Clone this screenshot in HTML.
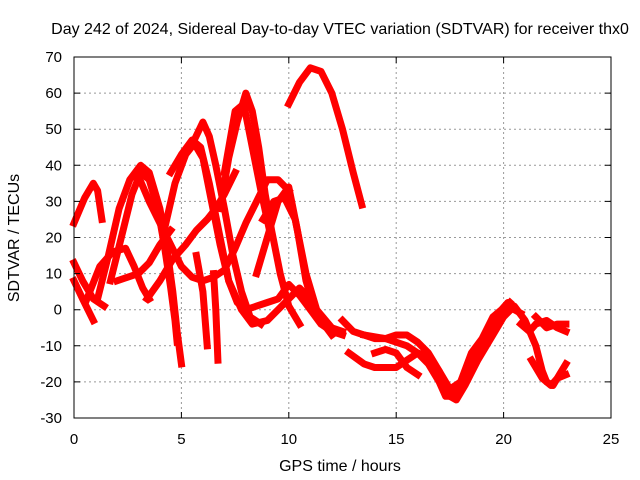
<!DOCTYPE html>
<html><head><meta charset="utf-8"><style>
body{margin:0;background:#fff;font-family:"Liberation Sans",sans-serif}
svg{display:block}
text{font-family:"Liberation Sans",sans-serif;font-size:16px;fill:#000}
text.tk{font-size:15px}
</style></head><body>
<svg id="chart" width="640" height="480" viewBox="0 0 640 480">
<text x="340" y="34" text-anchor="middle">Day 242 of 2024, Sidereal Day-to-day VTEC variation (SDTVAR) for receiver thx0</text>
<g id="grid"></g>
<g id="series"></g>
<rect x="74" y="57" width="537" height="361" fill="none" stroke="#000" stroke-width="1"/>
<g id="ticks"></g>
<text x="340" y="471" text-anchor="middle">GPS time / hours</text>
<text x="19" y="238" text-anchor="middle" transform="rotate(-90 19 238)">SDTVAR / TECUs</text>
</svg>
<script>
const xTicks=[0,5,10,15,20,25];
const yTicks=[-30,-20,-10,0,10,20,30,40,50,60,70];
const t1=[[0,24],[0.5,31],[0.9,35],[1.1,33],[1.3,25]];
const t2=[[0,13],[0.4,8],[0.9,3],[1.4,1]];
const t3=[[0,8],[0.4,3],[0.9,-3]];
const t4=[[0.6,3],[1.2,12],[1.8,16],[2.4,17],[2.8,12],[3.2,6],[3.5,3]];
const t5=[[1.7,8],[2.2,20],[2.7,32],[3.1,38],[3.5,36],[3.9,28],[4.2,18],[4.5,6],[4.7,-3],[4.8,-9]];
const t6=[[1.1,3],[1.6,15],[2.1,28],[2.6,36],[3.1,40],[3.5,38],[4,28],[4.3,18],[4.6,5],[4.8,-6],[5,-15]];
const t7=[[2,8],[2.5,9],[3,10],[3.5,13],[4,18],[4.5,22]];
const t8=[[3,37],[3.5,30],[4,24],[4.5,18],[5,12],[5.5,9],[6,8],[6.5,9],[7,11],[7.5,17],[8,24],[8.5,30],[9,36],[9.5,36],[10,33]];
const t9=[[4.5,38],[5,43],[5.5,47],[5.9,45],[6.3,35],[6.8,20],[7.2,8],[7.6,2],[8,0],[8.5,1],[9,2],[9.5,3],[10,7],[10.5,4],[11,0],[11.5,-4],[12,-6]];
const t10=[[4.2,22],[4.7,35],[5.2,43],[5.6,46],[6,42],[6.4,30],[6.8,18],[7.2,8],[7.8,0],[8.3,-4],[9,-3],[9.5,0],[10,3],[10.5,6],[11,3],[11.5,-3],[12,-7]];
const t11=[[3.4,3],[4,8],[4.6,14],[5.2,18],[5.7,22],[6.2,25],[6.6,28],[7,32],[7.5,38]];
const t12=[[5.6,47],[6,52],[6.3,48],[6.6,40],[7,28],[7.4,15],[7.8,5],[8.2,-2],[8.7,-4]];
const t13=[[6.8,28],[7.2,42],[7.6,52],[8,60],[8.3,55],[8.6,45],[8.9,32],[9.2,22],[9.6,10],[10,1],[10.5,-4]];
const t14=[[7,38],[7.5,55],[7.9,57],[8.3,45],[8.7,33],[9.1,22]];
const t15=[[5.7,15],[6,5],[6.2,-10]];
const t16=[[6.5,10],[6.6,0],[6.7,-14]];
const t17=[[8.5,10],[9,20],[9.5,30],[10,34],[10.4,22],[10.8,8],[11.3,-2],[12,-6],[12.5,-7]];
const t18=[[8.8,25],[9.3,30],[9.8,31],[10.3,25],[10.8,10],[11.3,0],[12,-5],[12.5,-6]];
const t19=[[10,57],[10.5,63],[11,67],[11.5,66],[12,60],[12.5,50],[13,38],[13.4,29]];
const t20=[[12.5,-3],[13,-6],[13.5,-7],[14,-8],[14.5,-8],[15,-9],[15.5,-10],[16,-12],[16.5,-15],[17,-20],[17.3,-24],[17.6,-24],[18,-20],[18.5,-14],[19,-10],[19.5,-5],[20,0],[20.3,2]];
const t21=[[12.8,-12],[13.5,-15],[14,-16],[15,-16],[15.5,-14],[16,-12],[16.5,-13],[17,-17],[17.5,-24],[17.8,-25],[18.2,-21],[18.8,-14],[19.5,-7],[20,-2],[20.5,1],[21,-3],[21.5,-10],[21.8,-17],[22,-20],[22.3,-21],[22.6,-18],[22.9,-15]];
const t22=[[13.5,-7],[14.5,-8],[15,-7],[15.5,-7],[16,-9],[16.5,-12],[17,-17],[17.5,-22],[18,-20],[18.5,-12],[19,-8],[19.5,-2],[19.9,0],[20.2,2],[20.5,0],[20.8,-1]];
const t23=[[14,-12],[14.5,-11],[15,-12],[15.5,-16],[16,-18]];
const t24=[[20.8,-4],[21.2,-6],[21.5,-4],[22,-3],[22.5,-5],[22.9,-6]];
const t25=[[21.5,-2],[22,-5],[22.5,-4],[22.9,-4]];
const t26=[[21.3,-14],[21.8,-19],[22.2,-21],[22.5,-19],[22.9,-18]];
const tracks=[t1,t2,t3,t4,t5,t6,t7,t8,t9,t10,t11,t12,t13,t14,t15,t16,t17,t18,t19,t20,t21,t22,t23,t24,t25,t26];
const NS='http://www.w3.org/2000/svg';
const X0=74,X1=611,Y0=418,Y1=57;
function sx(h){return X0+(h-0)/(25-0)*(X1-X0);}
function sy(v){return Y0-(v+30)/(100)*(Y0-Y1);}
const grid=document.getElementById('grid'),ticks=document.getElementById('ticks'),ser=document.getElementById('series');
xTicks.forEach(t=>{
 const x=sx(t);
 if(t>0&&t<25){const l=document.createElementNS(NS,'line');
 
 
 l.setAttribute('x1',x);l.setAttribute('x2',x);l.setAttribute('y1',Y1);l.setAttribute('y2',Y0);
 l.setAttribute('stroke','#999');l.setAttribute('stroke-dasharray','2,3');grid.appendChild(l);}
 const tk=document.createElementNS(NS,'path');
 
 
 tk.setAttribute('d',`M${x},${Y0}v-6M${x},${Y1}v6`);tk.setAttribute('stroke','#000');ticks.appendChild(tk);
 const tx=document.createElementNS(NS,'text');
 
 
 tx.setAttribute('class','tk');
 tx.setAttribute('x',x);tx.setAttribute('y',Y0+26);tx.setAttribute('text-anchor','middle');tx.textContent=t;ticks.appendChild(tx);
});
yTicks.forEach(t=>{
 const y=sy(t);
 if(t>-30&&t<70){const l=document.createElementNS(NS,'line');
 
 
 l.setAttribute('x1',X0);l.setAttribute('x2',X1);l.setAttribute('y1',y);l.setAttribute('y2',y);
 l.setAttribute('stroke','#999');l.setAttribute('stroke-dasharray','2,3');grid.appendChild(l);}
 const tk=document.createElementNS(NS,'path');
 
 
 tk.setAttribute('d',`M${X0},${y}h6M${X1},${y}h-6`);tk.setAttribute('stroke','#000');ticks.appendChild(tk);
 const tx=document.createElementNS(NS,'text');
 
 
 tx.setAttribute('class','tk');
 tx.setAttribute('x',X0-12);tx.setAttribute('y',y+5);tx.setAttribute('text-anchor','end');tx.textContent=t;ticks.appendChild(tx);
});
tracks.forEach(tr=>{
 const p=document.createElementNS(NS,'polyline');
 
 
 p.setAttribute('points',tr.map(d=>sx(d[0]).toFixed(1)+','+sy(d[1]).toFixed(1)).join(' '));
 p.setAttribute('fill','none');p.setAttribute('stroke','#ff0000');p.setAttribute('stroke-width','7');
 p.setAttribute('stroke-linejoin','round');p.setAttribute('stroke-linecap','square');
 ser.appendChild(p);
});
</script>
</body></html>
